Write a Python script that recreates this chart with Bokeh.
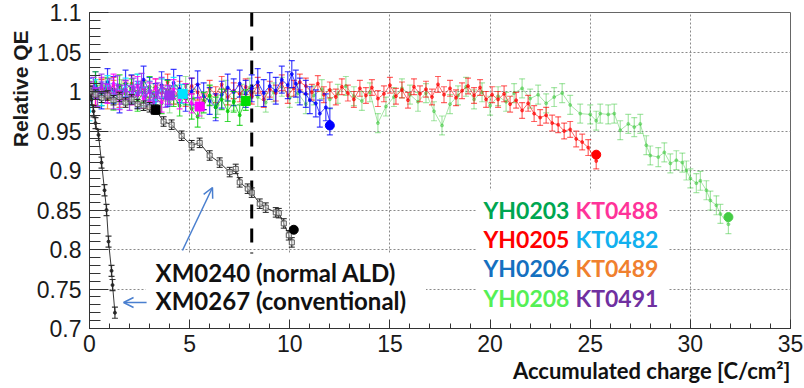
from bokeh.plotting import figure
from bokeh.models import (ColumnDataSource, FixedTicker, Label, BoxAnnotation,
                          Span, Arrow, OpenHead, Title)
from bokeh.embed import file_html
from bokeh.resources import INLINE

# ---------------- data ----------------
x_ticks = [0, 5, 10, 15, 20, 25, 30, 35]
x_tick_labels = ["0", "5", "10", "15", "20", "25", "30", "35"]
y_ticks = [0.7, 0.75, 0.8, 0.85, 0.9, 0.95, 1.0, 1.05, 1.1]
y_tick_labels = ["0.7", "0.75", "0.8", "0.85", "0.9", "0.95", "1", "1.05", "1.1"]

kt0489_x = [0.0, 0.3, 0.6, 0.9, 1.2, 1.5]
kt0489_y = [1.000, 0.995, 1.004, 0.990, 1.002, 0.996]

yh0208_x = [0.0, 0.4, 0.8, 1.2, 1.6, 2.0, 2.4, 2.8, 3.2, 3.6, 4.0, 4.4, 4.8, 5.2, 5.6, 6.0,
            6.4, 6.8, 7.2, 7.6, 8.0, 8.4, 8.8, 9.2, 9.6, 10.0, 10.4, 10.8, 11.2, 11.6, 12.0,
            12.4, 12.8, 13.2, 13.6, 14.0, 14.4, 14.8, 15.2, 15.6, 16.0, 16.4, 16.8, 17.2,
            17.6, 18.0, 18.4, 18.8, 19.2, 19.6, 20.0, 20.4, 20.8, 21.2, 21.6, 22.0, 22.4,
            22.8, 23.2, 23.6, 24.0, 24.5, 25.0, 25.3, 25.5, 25.9, 26.2, 26.5, 26.9, 27.2,
            27.5, 27.8, 28.0, 28.4, 28.7, 29.0, 29.3, 29.6, 29.8, 30.0, 30.3, 30.5, 30.8,
            31.0, 31.3, 31.5, 31.9]
yh0208_y = [1.000, 0.992, 1.006, 0.988, 1.003, 0.995, 1.010, 0.990, 0.998, 1.004, 0.985,
            0.996, 1.007, 0.991, 0.978, 0.995, 0.983, 1.002, 0.988, 0.997, 1.005, 0.993,
            0.986, 0.999, 1.006, 0.992, 0.998, 0.984, 0.995, 1.003, 0.990, 0.997, 1.007,
            0.994, 0.988, 0.999, 0.960, 0.981, 0.993, 1.004, 0.996, 0.987, 0.998, 0.975,
            0.957, 0.984, 0.995, 1.006, 0.990, 0.999, 0.982, 0.994, 0.987, 0.998, 1.004,
            0.991, 0.996, 0.985, 0.993, 0.998, 0.983, 0.972, 0.971, 0.963, 0.972, 0.971,
            0.972, 0.951, 0.959, 0.955, 0.959, 0.932, 0.919, 0.917, 0.923, 0.909, 0.913,
            0.910, 0.900, 0.890, 0.884, 0.887, 0.875, 0.862, 0.856, 0.845, 0.832]

yh0205_x = [0.0, 0.3, 0.6, 0.9, 1.2, 1.5, 1.8, 2.1, 2.4, 2.7, 3.0, 3.3, 3.6, 3.9, 4.2, 4.5,
            4.8, 5.1, 5.4, 5.7, 6.0, 6.3, 6.6, 6.9, 7.2, 7.5, 7.8, 8.1, 8.4, 8.7, 9.0, 9.3,
            9.6, 9.9, 10.2, 10.5, 10.8, 11.1, 11.4, 11.7, 12.0, 12.3, 12.6, 12.9, 13.2, 13.5,
            13.8, 14.1, 14.4, 14.7, 15.0, 15.3, 15.6, 15.9, 16.2, 16.5, 16.8, 17.1, 17.4,
            17.7, 18.0, 18.3, 18.6, 18.9, 19.2, 19.5, 19.8, 20.1, 20.4, 20.7, 21.0, 21.3,
            21.6, 21.9, 22.2, 22.5, 22.8, 23.1, 23.4, 23.7, 24.0, 24.3, 24.6, 24.9, 25.3]
yh0205_y = [1.000, 0.992, 1.005, 0.996, 1.008, 0.990, 1.002, 1.010, 0.995, 1.004, 0.988,
            1.006, 0.998, 1.012, 0.994, 1.003, 0.991, 1.007, 0.999, 0.987, 1.004, 0.996,
            1.009, 0.993, 1.001, 0.997, 1.006, 0.994, 1.008, 0.990, 1.003, 0.998, 1.011,
            0.995, 1.004, 1.012, 1.007, 0.999, 1.010, 0.996, 1.002, 0.993, 1.006, 0.998,
            0.990, 1.004, 0.995, 1.005, 0.991, 0.997, 1.008, 0.994, 1.002, 0.989, 1.006,
            0.997, 1.003, 0.993, 1.009, 0.996, 1.004, 0.992, 1.001, 1.007, 0.995, 1.005,
            0.990, 0.996, 0.990, 0.997, 0.984, 0.989, 0.976, 0.985, 0.972, 0.967, 0.970,
            0.960, 0.958, 0.950, 0.952, 0.940, 0.936, 0.929, 0.912]

yh0206_x = [0.0, 0.3, 0.6, 0.9, 1.2, 1.5, 1.8, 2.1, 2.4, 2.7, 3.0, 3.3, 3.6, 3.9, 4.2, 4.5,
            4.8, 5.1, 5.4, 5.7, 6.0, 6.3, 6.6, 6.9, 7.2, 7.5, 7.8, 8.1, 8.4, 8.7, 9.0, 9.3,
            9.6, 9.9, 10.1, 10.3, 10.5, 10.8, 11.0, 11.3, 11.5, 11.8, 12.0]
yh0206_y = [1.000, 1.008, 0.995, 1.012, 1.002, 0.990, 1.010, 1.004, 0.996, 1.015, 1.001,
            0.993, 1.008, 0.998, 1.011, 1.003, 0.992, 1.000, 1.009, 0.994, 0.988, 0.980,
            0.996, 1.005, 0.999, 1.010, 0.997, 1.004, 1.012, 0.998, 1.007, 1.001, 1.015,
            1.008, 1.022, 1.010, 1.000, 0.997, 0.989, 0.985, 0.972, 0.980, 0.962]

yh0203_x = [0.0, 0.3, 0.6, 0.9, 1.2, 1.5, 1.8, 2.1, 2.4, 2.7, 3.0, 3.3, 3.6, 3.9, 4.2, 4.5,
            4.8, 5.1, 5.4, 5.7, 6.0, 6.3, 6.6, 6.9, 7.2, 7.5, 7.8]
yh0203_y = [1.000, 1.012, 0.995, 1.004, 0.990, 1.008, 0.997, 1.003, 0.988, 0.999, 1.006,
            0.992, 0.985, 1.001, 0.994, 0.982, 0.996, 0.978, 0.968, 0.986, 0.995, 0.980,
            0.990, 0.975, 0.987, 0.970, 0.989]

kt0491_x = [0.0, 0.2, 0.4, 0.6, 0.8, 1.0, 1.2, 1.4, 1.6, 1.8, 2.0, 2.2, 2.4, 2.6, 2.8,
            3.0, 3.2, 3.4, 3.6, 3.8, 4.0]
kt0491_y = [1.000, 1.006, 0.993, 1.010, 0.998, 1.004, 0.990, 1.008, 0.996, 1.002, 0.988,
            1.005, 0.997, 1.011, 0.994, 1.001, 0.986, 0.999, 1.006, 0.992, 0.995]

kt0482_x = [0.0, 0.3, 0.6, 0.9, 1.2, 1.5, 1.8, 2.1, 2.4, 2.7, 3.0, 3.3, 3.6, 3.9, 4.2, 4.6]
kt0482_y = [0.975, 1.003, 0.994, 1.008, 0.998, 0.990, 1.005, 0.996, 1.010, 0.993, 1.001,
            0.987, 1.004, 0.995, 1.006, 0.997]

kt0488_x = [0.0, 0.3, 0.6, 0.9, 1.2, 1.5, 1.8, 2.1, 2.4, 2.7, 3.0, 3.3, 3.6, 3.9, 4.2,
            4.5, 4.8, 5.1, 5.5]
kt0488_y = [1.000, 0.992, 1.006, 0.997, 1.010, 0.989, 1.002, 0.995, 1.007, 0.991, 0.999,
            1.004, 0.986, 0.996, 1.003, 0.990, 0.998, 0.985, 0.981]

xm0240_x = [0.0, 0.3, 0.6, 0.9, 1.2, 1.5, 1.8, 2.1, 2.4, 2.7, 3.0, 3.3, 3.7, 4.1, 4.6,
            5.1, 5.5, 6.0, 6.5, 7.0, 7.3, 7.5, 7.9, 8.1, 8.5, 8.8, 9.3, 9.45, 9.7, 9.95, 10.1]
xm0240_y = [1.000, 0.996, 0.992, 0.995, 0.989, 0.993, 0.986, 0.990, 0.984, 0.982, 0.980,
            0.977, 0.962, 0.958, 0.944, 0.932, 0.935, 0.919, 0.910, 0.898, 0.902, 0.885,
            0.877, 0.872, 0.858, 0.853, 0.847, 0.846, 0.833, 0.818, 0.809]

xm0267_x = [0.0, 0.1, 0.2, 0.3, 0.45, 0.6, 0.75, 0.85, 0.95, 1.1, 1.15, 1.27]
xm0267_y = [1.000, 0.990, 0.975, 0.960, 0.945, 0.910, 0.875, 0.850, 0.810, 0.773, 0.755, 0.720]

# final (large) markers of the series
end_x = [3.3, 10.2, 12.0, 25.3, 31.9, 7.8, 4.65, 5.5, 4.0]
end_y = [0.977, 0.825, 0.957, 0.920, 0.841, 0.988, 0.997, 0.981, 0.995]
end_marker = ["square", "circle", "circle", "circle", "circle", "square", "square", "square", "square"]
end_color = ["#000000", "#000000", "#0000ff", "#ff0000", "#44cc44", "#00dd00", "#00e5ff", "#ff00ff", "#9933ee"]

legend_left = ["YH0203", "YH0205", "YH0206", "YH0208"]
legend_left_colors = ["#00a651", "#ff0000", "#1570c0", "#55f055"]
legend_right = ["KT0488", "KT0482", "KT0489", "KT0491"]
legend_right_colors = ["#ff3399", "#12b0ee", "#f0802e", "#7030a0"]

# ---------------- figure ----------------
p = figure(width=804, height=388, x_range=(0, 35), y_range=(0.7, 1.1),
           output_backend="svg", toolbar_location=None,
           min_border_left=89, min_border_right=14, min_border_top=12, min_border_bottom=60)
p.background_fill_color = "white"
p.border_fill_color = "white"
p.outline_line_color = "#666666"
p.outline_line_width = 1

x_minor = [float(v) for v in range(0, 36)]
y_minor = [round(0.70 + 0.01 * i, 2) for i in range(41)]

p.xaxis.ticker = FixedTicker(ticks=x_ticks, minor_ticks=x_minor)
p.yaxis.ticker = FixedTicker(ticks=y_ticks, minor_ticks=y_minor)
p.xaxis.major_label_overrides = {t: s for t, s in zip(x_ticks, x_tick_labels)}
p.yaxis.major_label_overrides = {t: s for t, s in zip(y_ticks, y_tick_labels)}
p.xgrid.ticker = FixedTicker(ticks=x_ticks)
p.ygrid.ticker = FixedTicker(ticks=y_ticks)
for g in (p.xgrid, p.ygrid):
    g.grid_line_color = "#8a8a8a"
    g.grid_line_dash = "2 2"
    g.grid_line_width = 1
    g.level = "image"

for ax in (p.xaxis, p.yaxis):
    ax.axis_line_color = "#333333"
    ax.major_tick_line_color = "#333333"
    ax.minor_tick_line_color = "#333333"
    ax.major_tick_out = 0
    ax.minor_tick_out = 0
    ax.major_label_text_font = "Liberation Sans"
    ax.major_label_text_font_size = "23px"
    ax.major_label_text_color = "#1a1a1a"
p.yaxis.major_tick_in = 19
p.yaxis.minor_tick_in = 11
p.xaxis.major_tick_in = 9
p.xaxis.minor_tick_in = 5
p.yaxis.major_label_standoff = 8
p.xaxis.major_label_standoff = 6

# axis titles (side-panel titles so they are not clipped)
p.add_layout(Title(text="Relative QE", align="right", offset=18, standoff=4,
                   text_font="Liberation Sans", text_font_style="bold",
                   text_font_size="21px", text_color="#1a1a1a"), "left")
p.add_layout(Title(text="Accumulated charge [C/cm²]", align="right", standoff=0,
                   text_font="Lato", text_font_style="bold",
                   text_font_size="22px", text_color="#111111"), "below")

# dashed reference line
p.add_layout(Span(location=8.1, dimension="height", line_color="black",
                  line_width=3, line_dash="14 10", level="image"))

# white boxes behind the annotation texts
p.add_layout(BoxAnnotation(left=2.8, right=16.8, top=0.795, bottom=0.7,
                           fill_color="white", fill_alpha=1, line_alpha=0, level="underlay"))
p.add_layout(BoxAnnotation(left=19.3, right=28.9, top=0.875, bottom=0.7,
                           fill_color="white", fill_alpha=1, line_alpha=0, level="underlay"))


def draw_series(xs, ys, err, color, alpha, dot=3):
    src = ColumnDataSource(dict(x=xs, y=ys,
                                lo=[v - err for v in ys], hi=[v + err for v in ys]))
    p.line("x", "y", source=src, line_color=color, line_alpha=alpha, line_width=1)
    p.segment(x0="x", y0="lo", x1="x", y1="hi", source=src,
              line_color=color, line_alpha=alpha, line_width=1.2)
    p.scatter("x", "lo", source=src, marker="dash", size=6, line_color=color,
              line_alpha=alpha, line_width=1.2)
    p.scatter("x", "hi", source=src, marker="dash", size=6, line_color=color,
              line_alpha=alpha, line_width=1.2)
    p.scatter("x", "y", source=src, marker="circle", size=dot, fill_color=color,
              line_color=color, alpha=alpha)


draw_series(kt0489_x, kt0489_y, 0.012, "#f08030", 0.8)
draw_series(yh0208_x, yh0208_y, 0.012, "#3cc83c", 0.45)
draw_series(yh0205_x, yh0205_y, 0.010, "#ff0000", 0.6)
draw_series(yh0206_x, yh0206_y, 0.017, "#0000ff", 0.75)
draw_series(yh0203_x, yh0203_y, 0.013, "#00cc00", 0.75)
draw_series(kt0482_x, kt0482_y, 0.012, "#00e5ff", 0.8)
draw_series(kt0488_x, kt0488_y, 0.012, "#ff00ff", 0.8)
draw_series(kt0491_x, kt0491_y, 0.012, "#9933ee", 0.85)
draw_series(xm0267_x, xm0267_y, 0.007, "#222222", 0.9)

src240 = ColumnDataSource(dict(x=xm0240_x, y=xm0240_y,
                               lo=[v - 0.006 for v in xm0240_y], hi=[v + 0.006 for v in xm0240_y]))
p.line("x", "y", source=src240, line_color="#333333", line_width=1)
p.segment(x0="x", y0="lo", x1="x", y1="hi", source=src240, line_color="#222222", line_width=1.2)
p.scatter("x", "lo", source=src240, marker="dash", size=6, line_color="#222222")
p.scatter("x", "hi", source=src240, marker="dash", size=6, line_color="#222222")
p.scatter("x", "y", source=src240, marker="square", size=5, fill_color="white",
          fill_alpha=0.5, line_color="#555555", line_width=1)

end_src = ColumnDataSource(dict(x=end_x, y=end_y, m=end_marker, c=end_color))
p.scatter("x", "y", source=end_src, marker="m", size=9, fill_color="c", line_color="c")

# ---------------- in-plot texts ----------------
legend_rows_y = [0.8494, 0.8139, 0.776, 0.7392]
for txt, col, yy in zip(legend_left, legend_left_colors, legend_rows_y):
    p.add_layout(Label(x=19.67, y=yy, text=txt, text_align="left", text_baseline="middle",
                       text_font="Lato", text_font_style="bold", text_font_size="23px",
                       text_color=col))
for txt, col, yy in zip(legend_right, legend_right_colors, legend_rows_y):
    p.add_layout(Label(x=24.26, y=yy, text=txt, text_align="left", text_baseline="middle",
                       text_font="Lato", text_font_style="bold", text_font_size="23px",
                       text_color=col))

p.add_layout(Label(x=3.3, y=0.771, text="XM0240 (normal ALD)", text_align="left",
                   text_baseline="middle", text_font="Lato", text_font_style="bold",
                   text_font_size="24px", text_color="#111111"))
p.add_layout(Label(x=3.3, y=0.7354, text="XM0267 (conventional)", text_align="left",
                   text_baseline="middle", text_font="Lato", text_font_style="bold",
                   text_font_size="24px", text_color="#111111"))

arrow_col = "#4a7fcf"
p.add_layout(Arrow(end=OpenHead(size=10, line_color=arrow_col, line_width=1.5),
                   x_start=4.64, y_start=0.7987, x_end=6.14, y_end=0.8785,
                   line_color=arrow_col, line_width=1.5))
p.add_layout(Arrow(end=OpenHead(size=10, line_color=arrow_col, line_width=1.5),
                   x_start=2.85, y_start=0.7329, x_end=1.7, y_end=0.7329,
                   line_color=arrow_col, line_width=1.5))

open("out.html", "w").write(file_html(p, INLINE))
